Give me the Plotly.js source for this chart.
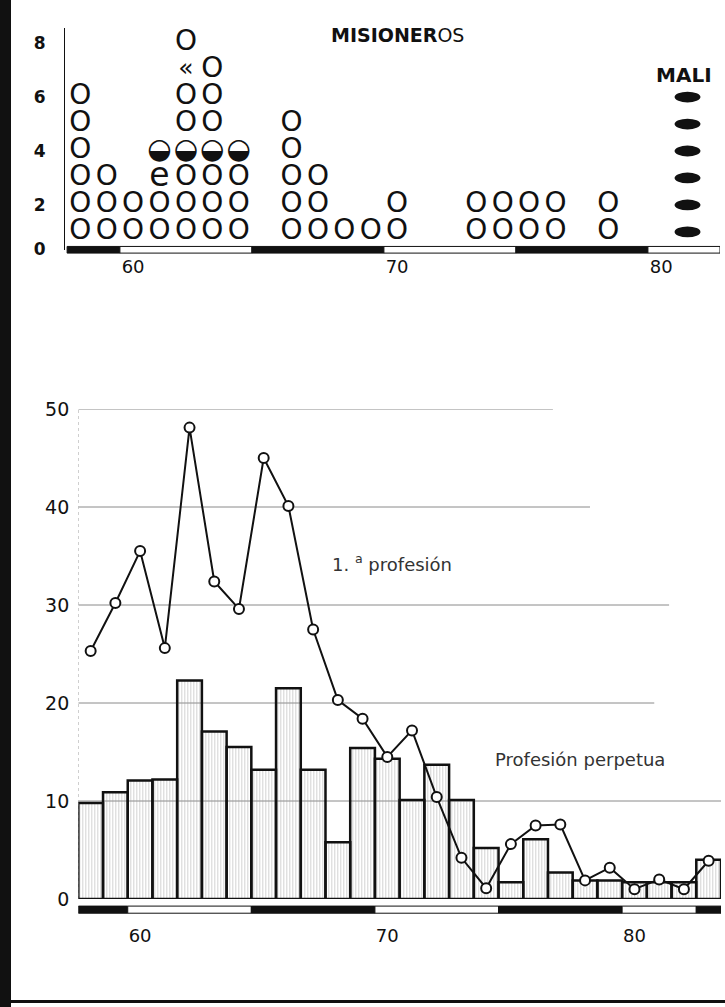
<!DOCTYPE html>
<html>
<head>
<meta charset="utf-8">
<script src="https://cdn.plot.ly/plotly-3.0.1.min.js"></script>
<style>
html,body{margin:0;padding:0;background:#fff;}
#chart{width:725px;height:1007px;}
</style>
</head>
<body>
<div id="chart"></div>
<script>
// ---------- Top panel: MISIONEROS (one glyph per missionary, stacked by year) ----------
const misYears  = [58, 59, 60, 61, 62, 63, 64, 66, 67, 68, 69, 70, 73, 74, 75, 76, 78];
const misCounts = [ 6,  3,  2,  4,  8,  7,  4,  5,  3,  1,  1,  2,  2,  2,  2,  2,  2];
const halfYears = [61, 62, 63, 64];      // glyph with lower half black, in row 4
const halfRow = 4;
const oddYears = [61, 62];               // damaged glyphs as printed
const oddRows  = [3, 7];
const oddChars = ['e', '«'];
const maliYear = 81;
const maliCount = 6;
const topYTicks = [0, 2, 4, 6, 8];
const xTickYears = [60, 70, 80];

// ---------- Bottom panel ----------
const years     = [58, 59, 60, 61, 62, 63, 64, 65, 66, 67, 68, 69, 70, 71, 72, 73, 74, 75, 76, 77, 78, 79, 80, 81, 82, 83];
const perpetua  = [9.8, 10.9, 12.1, 12.2, 22.3, 17.1, 15.5, 13.2, 21.5, 13.2, 5.8, 15.4, 14.3, 10.1, 13.7, 10.1, 5.2, 1.7, 6.1, 2.7, 1.9, 1.9, 1.7, 1.7, 1.7, 4.0];
const primera   = [25.3, 30.2, 35.5, 25.6, 48.1, 32.4, 29.6, 45.0, 40.1, 27.5, 20.3, 18.4, 14.5, 17.2, 10.4, 4.2, 1.1, 5.6, 7.5, 7.6, 1.9, 3.2, 1.0, 2.0, 1.0, 3.9];
const bottomYTicks = [0, 10, 20, 30, 40, 50];
const gridValues = [10, 20, 30, 40, 50];
const periodEdges = [57.5, 59.5, 64.5, 69.5, 74.5, 79.5, 82.5, 83.5];

// ---------- geometry / style ----------
const W = 725, H = 1007;
const topRange = [57.42, 82.23];
const topYRange = [0.33, 8.56];
const botRange = [57.5, 83.5];
const FONT = 'DejaVu Sans, sans-serif';

// build glyph lists for the top panel
const oX = [], oY = [], hX = [], hY = [];
misYears.forEach((yr, i) => {
  for (let r = 1; r <= misCounts[i]; r++) {
    if (r === halfRow && halfYears.includes(yr)) { hX.push(yr); hY.push(r); continue; }
    let odd = false;
    oddYears.forEach((oy, j) => { if (oy === yr && oddRows[j] === r) odd = true; });
    if (odd) continue;
    oX.push(yr); oY.push(r);
  }
});

const traces = [
  { type: 'scatter', mode: 'text', x: oX, y: oY, text: oX.map(() => 'O'),
    textposition: 'middle center', textfont: { family: FONT, size: 28, color: '#111' },
    xaxis: 'x', yaxis: 'y', hoverinfo: 'skip', cliponaxis: false },
  { type: 'scatter', mode: 'text', x: hX, y: hY, text: hX.map(() => '◒'),
    textposition: 'middle center', textfont: { family: FONT, size: 28, color: '#111' },
    xaxis: 'x', yaxis: 'y', hoverinfo: 'skip', cliponaxis: false },
  { type: 'scatter', mode: 'text', x: oddYears, y: oddRows, text: oddChars,
    textposition: 'middle center', textfont: { family: FONT, size: [33, 25], color: '#111' },
    xaxis: 'x', yaxis: 'y', hoverinfo: 'skip', cliponaxis: false },
  { type: 'bar', x: years, y: perpetua, width: 1, xaxis: 'x2', yaxis: 'y2', hoverinfo: 'skip',
    marker: { color: 'rgba(255,255,255,0)', line: { color: '#111', width: 2.5 },
      pattern: { shape: '|', fillmode: 'overlay', fgcolor: '#9c9c9c', bgcolor: 'rgba(255,255,255,0)', size: 3, solidity: 0.3 } } },
  { type: 'scatter', mode: 'lines+markers', x: years, y: primera, xaxis: 'x2', yaxis: 'y2', hoverinfo: 'skip',
    cliponaxis: false,
    line: { color: '#111', width: 2 },
    marker: { symbol: 'circle', size: 10, color: '#fff', line: { color: '#111', width: 2 } } }
];

const shapes = [];
// gridlines of bottom panel (fading to the right in the print)
const gridEnds = [83.5, 80.8, 81.4, 78.2, 76.7];
gridValues.forEach((g, i) => {
  shapes.push({ type: 'line', xref: 'x2', yref: 'y2', x0: botRange[0], x1: gridEnds[i], y0: g, y1: g,
    line: { color: '#8a8a8a', width: 1 }, layer: 'below' });
});
// left dotted axis of bottom panel
shapes.push({ type: 'line', xref: 'x2', yref: 'y2', x0: botRange[0], x1: botRange[0], y0: 0, y1: 50,
  line: { color: '#aaa', width: 1, dash: 'dot' }, layer: 'below' });
// period strips (five-year blocks) under both panels
for (let i = 0; i < periodEdges.length - 1; i++) {
  const fill = i % 2 === 0 ? '#111' : '#fff';
  const a = Math.max(periodEdges[i], topRange[0]), b = Math.min(periodEdges[i + 1], topRange[1]);
  if (b > a) shapes.push({ type: 'rect', xref: 'x', yref: 'y domain', x0: a, x1: b, y0: -0.014, y1: 0.016,
    fillcolor: fill, line: { color: '#111', width: 1 } });
  shapes.push({ type: 'rect', xref: 'x2', yref: 'y2 domain', x0: periodEdges[i], x1: periodEdges[i + 1], y0: -0.029, y1: -0.0145,
    fillcolor: fill, line: { color: '#111', width: 1 } });
}
// MALI filled ellipses
for (let k = 1; k <= maliCount; k++) {
  shapes.push({ type: 'circle', xref: 'x', yref: 'y', x0: maliYear - 0.49, x1: maliYear + 0.49, y0: k - 0.2, y1: k + 0.2,
    fillcolor: '#111', line: { color: '#111', width: 0 } });
}
// scan frame: left black band and bottom rule
shapes.push({ type: 'rect', xref: 'paper', yref: 'paper', x0: 0, x1: 11 / W, y0: 0, y1: 1, fillcolor: '#111', line: { width: 0 } });
shapes.push({ type: 'rect', xref: 'paper', yref: 'paper', x0: 0, x1: 1, y0: (H - 1003) / H, y1: (H - 1000) / H, fillcolor: '#111', line: { width: 0 } });

const annotations = [
  { xref: 'x', yref: 'y', x: 70.0, y: 8.3, text: '<b>MISIONER</b>OS', showarrow: false,
    font: { family: FONT, size: 19, color: '#111' } },
  { xref: 'x', yref: 'y', x: 80.87, y: 6.8, text: '<b>MALI</b>', showarrow: false,
    font: { family: FONT, size: 20, color: '#111' } },
  { xref: 'x2', yref: 'y2', x: 70.2, y: 34.3, text: '1. <sup>a</sup> profesión', showarrow: false,
    font: { family: FONT, size: 18, color: '#333' } },
  { xref: 'x2', yref: 'y2', x: 77.8, y: 14.2, text: 'Profesión perpetua', showarrow: false,
    font: { family: FONT, size: 18, color: '#333' } }
];

const layout = {
  width: W, height: H, margin: { l: 0, r: 0, t: 0, b: 0 },
  paper_bgcolor: '#fff', plot_bgcolor: 'rgba(0,0,0,0)', showlegend: false, bargap: 0,
  font: { family: FONT, color: '#111' },
  xaxis: { domain: [65 / W, 720 / W], range: topRange, anchor: 'y', tickvals: xTickYears, ticks: '',
    showgrid: false, zeroline: false, showline: false, ticklabelstandoff: 4,
    tickfont: { family: FONT, size: 18, color: '#111' } },
  yaxis: { domain: [(H - 250) / H, (H - 28) / H], range: topYRange, anchor: 'x',
    tickvals: topYTicks.map(v => v === 0 ? topYRange[0] + 0.02 : v), ticktext: topYTicks.map(String),
    ticks: '', showgrid: false, zeroline: false, showline: true, linecolor: '#111', linewidth: 1,
    ticklabelstandoff: 15, tickfont: { family: FONT, size: 17, color: '#111', weight: 700 } },
  xaxis2: { domain: [78.3 / W, 721 / W], range: botRange, anchor: 'y2', tickvals: xTickYears, ticks: '',
    showgrid: false, zeroline: false, showline: false, ticklabelstandoff: 24,
    tickfont: { family: FONT, size: 18, color: '#111' } },
  yaxis2: { domain: [(H - 899) / H, (H - 409) / H], range: [0, 50], anchor: 'x2', tickvals: bottomYTicks,
    ticks: '', showgrid: false, zeroline: false, showline: false, ticklabelstandoff: 8,
    tickfont: { family: FONT, size: 19, color: '#111' } },
  shapes: shapes, annotations: annotations
};

Plotly.newPlot('chart', traces, layout, { staticPlot: true, displayModeBar: false });
</script>
</body>
</html>
